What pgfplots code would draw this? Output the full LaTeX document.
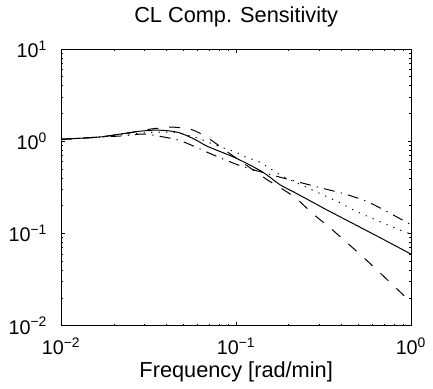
\documentclass[border=0pt]{standalone}
\usepackage{pgfplots}
\pgfplotsset{compat=1.18}
\usepackage{fontspec}
\setmainfont{Liberation Sans}
\begin{document}
\begin{tikzpicture}
\begin{axis}[
  scale only axis, width=177pt, height=140pt,
  xmode=log, ymode=log,
  xmin=0.01, xmax=1, ymin=0.01, ymax=10,
  clip=false,
  axis line style={line width=0.5pt},
  every tick/.style={black, line width=0.4pt},
  major tick length=1.8pt, minor tick length=1.1pt,
  tick align=inside, xtick pos=both, ytick pos=both,
  xtick={0.01,0.1,1},
  xticklabels={10\textsuperscript{−2},10\textsuperscript{−1},10\textsuperscript{0}},
  ytick={0.01,0.1,1,10},
  yticklabels={10\textsuperscript{−2},10\textsuperscript{−1},10\textsuperscript{0},10\textsuperscript{1}},
  minor xtick={0.02,0.03,0.04,0.05,0.06,0.07,0.08,0.09,0.2,0.3,0.4,0.5,0.6,0.7,0.8,0.9},
  minor ytick={0.02,0.03,0.04,0.05,0.06,0.07,0.08,0.09,0.2,0.3,0.4,0.5,0.6,0.7,0.8,0.9,2,3,4,5,6,7,8,9},
  tick label style={font=\fontsize{10}{12}\selectfont},
  xticklabel style={anchor=base, yshift=-14.5pt},
  yticklabel style={anchor=east, xshift=-3.5pt},
  title={CL Comp. Sensitivity},
  title style={font=\fontsize{11}{13}\selectfont, at={(0.5,1)}, anchor=base, yshift=7.5pt},
  xlabel={Frequency [rad/min]},
  xlabel style={font=\fontsize{11}{13}\selectfont, at={(0.5,0)}, anchor=base, yshift=-26pt},
]
% solid
\addplot[black, line width=0.5pt, smooth] coordinates {
(0.01,1.05) (0.0164,1.11) (0.0213,1.19) (0.0276,1.28) (0.0358,1.32) (0.0464,1.25)
(0.0579,1.05) (0.0686,0.88) (0.0987,0.662) (0.1403,0.469) (0.1772,0.340)
(0.2154,0.279) (0.2869,0.208) (0.3398,0.175) (0.6511,0.092) (1.0,0.0597)};
% dashed
\addplot[black, line width=0.5pt, smooth, dash pattern=on 5.5pt off 5.5pt] coordinates {
(0.01,1.05) (0.0164,1.11) (0.02422,1.227) (0.03225,1.354) (0.03673,1.388) (0.04349,1.423)
(0.05426,1.354) (0.0618,1.227) (0.06769,1.112) (0.08017,0.8906) (0.08896,0.7679)
(0.1154,0.5435) (0.1497,0.3847) (0.2127,0.2529) (0.2759,0.1622) (0.3398,0.1177)
(0.4237,0.0813) (0.5288,0.0561) (0.6511,0.0388) (0.8446,0.0243) (1.0,0.0180)};
% dotted
\addplot[black, line width=0.5pt, smooth, dash pattern=on 0.6pt off 3.2pt] coordinates {
(0.01,1.05) (0.0164,1.11) (0.02422,1.197) (0.03578,1.258) (0.04642,1.227) (0.06021,1.085)
(0.07809,0.8906) (0.09872,0.7679) (0.1154,0.6622) (0.1349,0.5999) (0.1772,0.4353)
(0.2019,0.3847) (0.3267,0.2529) (0.3869,0.2182) (0.4828,0.1747) (0.6511,0.1365)
(0.8897,0.1066) (1.0,0.0990)};
% dash-dot
\addplot[black, line width=0.5pt, smooth, dash pattern=on 5.5pt off 3.2pt on 0.6pt off 3.2pt] coordinates {
(0.01,1.05) (0.0164,1.11) (0.02183,1.14) (0.02944,1.197) (0.03578,1.14) (0.04642,1.033)
(0.05497,0.913) (0.07608,0.6956) (0.1054,0.5435) (0.1497,0.4462) (0.2211,0.3662)
(0.2983,0.3158) (0.4237,0.2657) (0.5716,0.2182) (0.8122,0.1544) (1.0,0.1236)};
\path (rel axis cs:-0.1751,-0.225) rectangle (rel axis cs:1.048,1.1536);
\end{axis}
\end{tikzpicture}
\end{document}
